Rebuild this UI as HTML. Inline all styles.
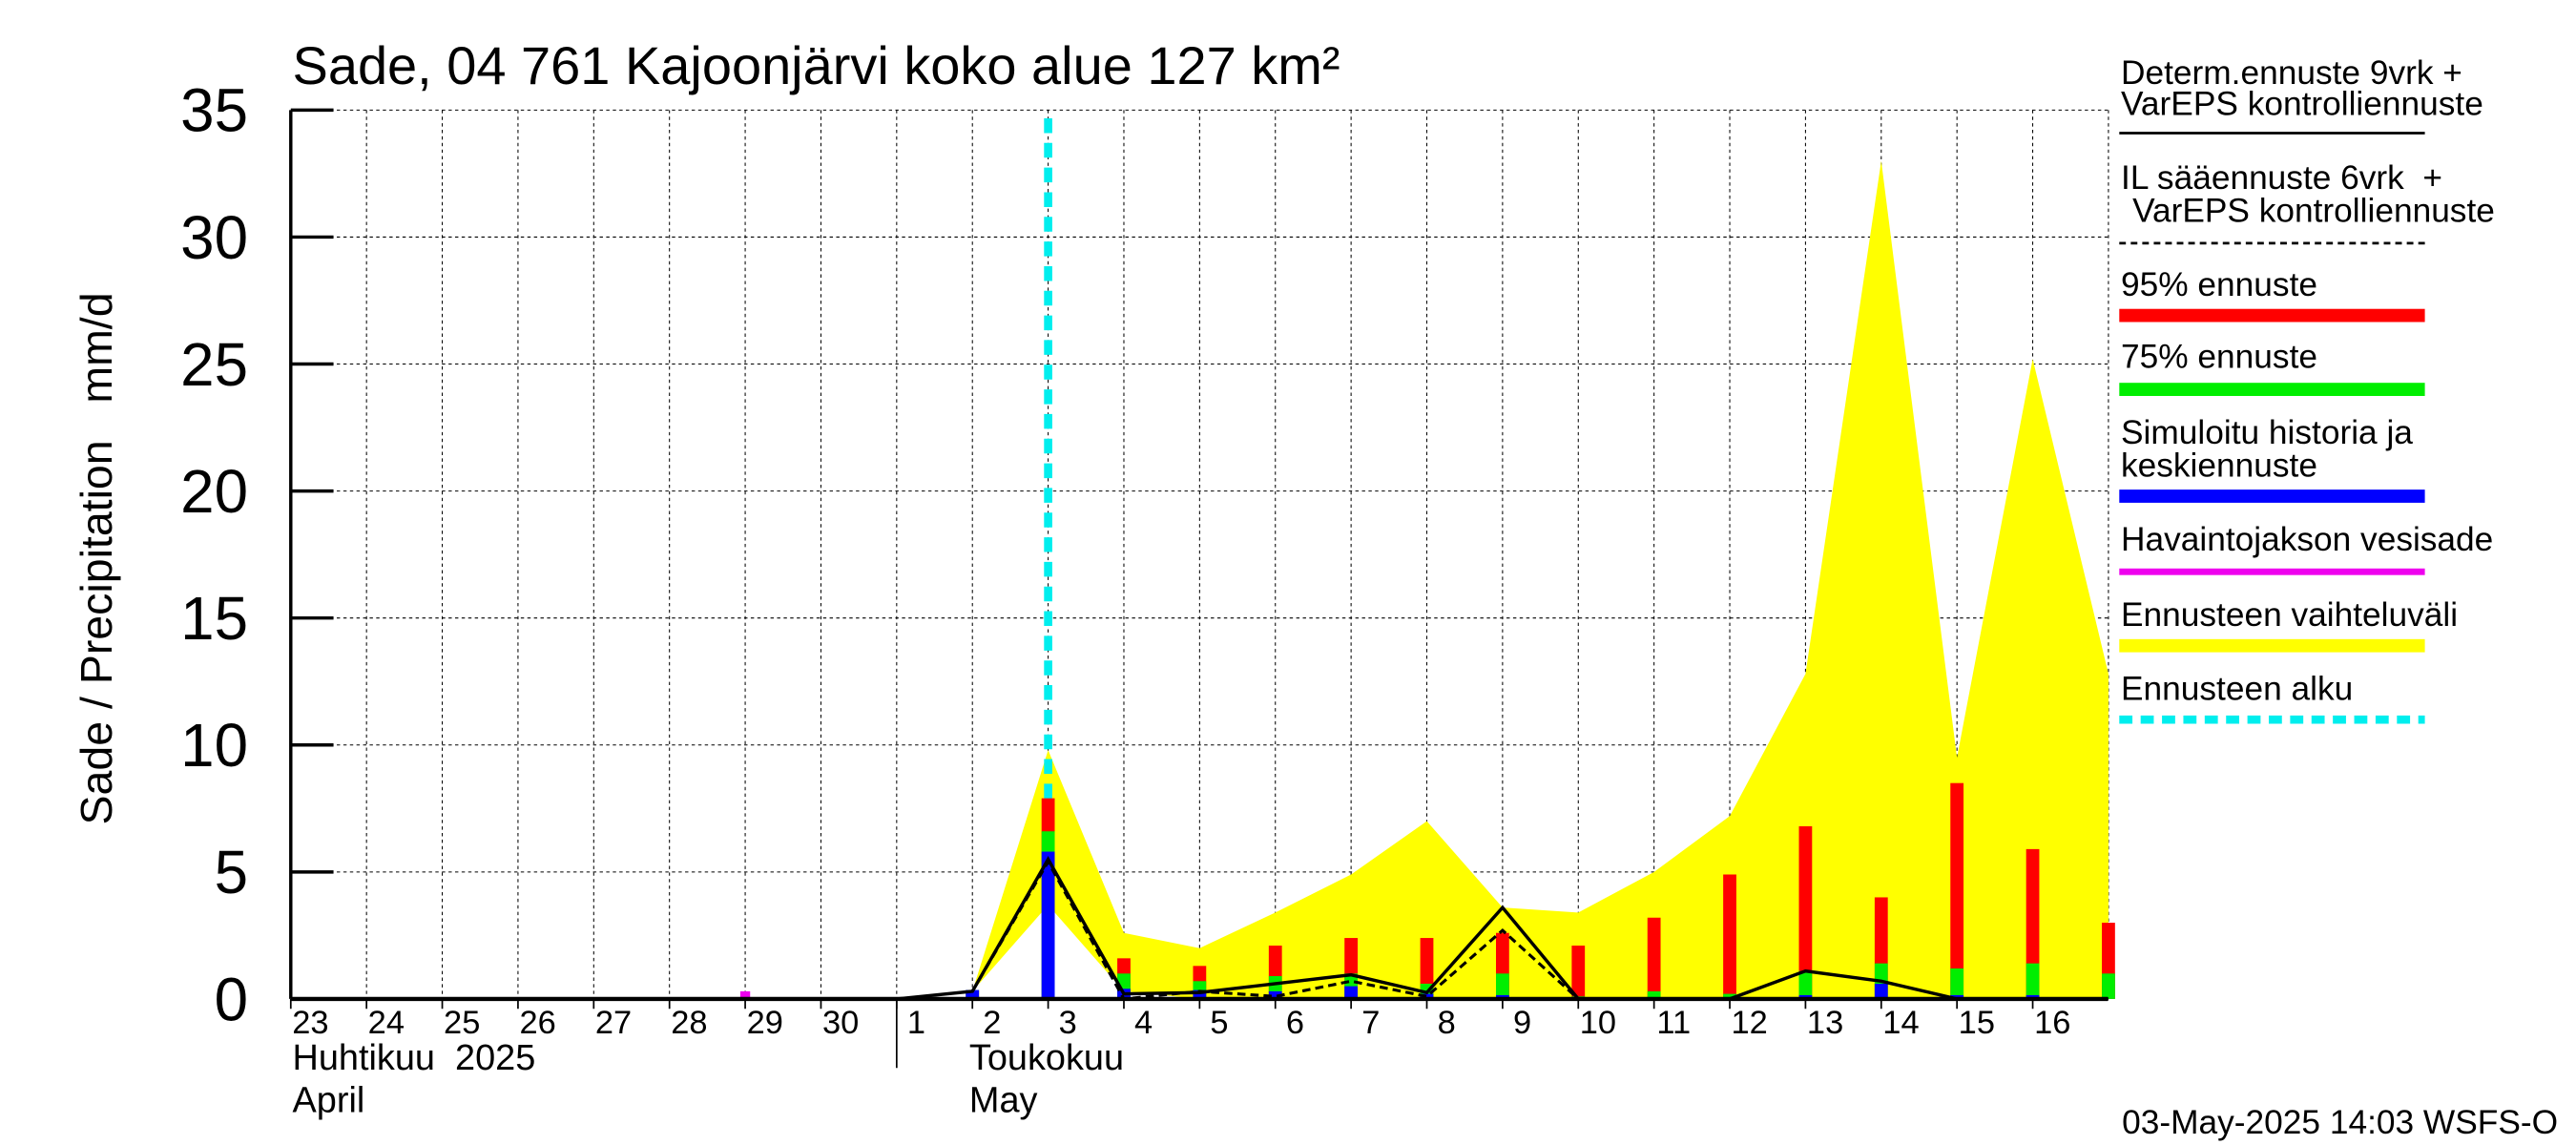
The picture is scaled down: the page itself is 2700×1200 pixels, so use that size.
<!DOCTYPE html>
<html><head><meta charset="utf-8"><style>html,body{margin:0;padding:0;background:#fff}svg{display:block}text{white-space:pre}</style></head>
<body>
<svg id="c" width="2700" height="1200" viewBox="0 0 1568 696.9" preserveAspectRatio="none" xmlns="http://www.w3.org/2000/svg" font-family="'Liberation Sans', sans-serif">
<text x="178" y="51" font-size="32.5">Sade, 04 761 Kajoonjärvi koko alue 127 km²</text>
<text transform="translate(68,340) rotate(-90)" text-anchor="middle" font-size="27">Sade / Precipitation   mm/d</text>
<g id="grid"></g><g id="band"></g><g id="start"></g><g id="bars"></g><g id="lines"></g><g id="axes"></g>
<g id="legend" font-size="20.5">
<text x="1291" y="51">Determ.ennuste 9vrk +</text><text x="1291" y="70">VarEPS kontrolliennuste</text>
<line x1="1290" y1="81" x2="1476" y2="81" stroke="#000" stroke-width="1.6"/>
<text x="1291" y="115">IL sääennuste 6vrk  +</text><text x="1298" y="135">VarEPS kontrolliennuste</text>
<line x1="1290" y1="148" x2="1476" y2="148" stroke="#000" stroke-width="1.6" stroke-dasharray="4,3"/>
<text x="1291" y="180">95% ennuste</text><rect x="1290" y="188" width="186" height="8" fill="#ff0000"/>
<text x="1291" y="224">75% ennuste</text><rect x="1290" y="233" width="186" height="8" fill="#00ee00"/>
<text x="1291" y="270">Simuloitu historia ja</text><text x="1291" y="290">keskiennuste</text><rect x="1290" y="298" width="186" height="8" fill="#0000ff"/>
<text x="1291" y="335">Havaintojakson vesisade</text><rect x="1290" y="346" width="186" height="4" fill="#ee00ee"/>
<text x="1291" y="381">Ennusteen vaihteluväli</text><rect x="1290" y="389" width="186" height="8" fill="#ffff00"/>
<text x="1291" y="426">Ennusteen alku</text><line x1="1290" y1="438" x2="1476" y2="438" stroke="#00eeee" stroke-width="5" stroke-dasharray="8,5"/>
</g>
<text x="1557" y="690" text-anchor="end" font-size="20.5">03-May-2025 14:03 WSFS-O</text>
</svg>
<script>
// day index 0 = Apr 23 ... 8 = May 1 ... 23 = May 16, 24 = May 17
const dayLabels=["23","24","25","26","27","28","29","30","1","2","3","4","5","6","7","8","9","10","11","12","13","14","15","16"];
const yTicks=[0,5,10,15,20,25,30,35];
const bandDays=[9,10,11,12,13,14,15,16,17,18,19,20,21,22,23,24];
const bandUpper=[0.3,9.8,2.6,2.0,3.4,4.9,7.0,3.6,3.4,5.0,7.2,12.8,33,9.5,25.2,12.8];
const bandLower=[0.3,3.7,0.3,0,0,0,0,0,0,0,0,0,0,0,0,0];
const barDays=[9,10,11,12,13,14,15,16,17,18,19,20,21,22,23,24];
const p95=[0.35,7.9,1.6,1.3,2.1,2.4,2.4,2.6,2.1,3.2,4.9,6.8,4.0,8.5,5.9,3.0];
const p75=[0.35,6.6,1.0,0.7,0.9,1.0,0.6,1.0,0.1,0.3,0.2,1.1,1.4,1.2,1.4,1.0];
const mean=[0.35,5.8,0.4,0.35,0.3,0.5,0.2,0.15,0,0,0,0.15,0.6,0.15,0.15,0];
const obsDays=[6];
const obsVals=[0.3];
const detDays=[8,9,10,11,12,13,14,15,16,17,18,19,20,21,22,23,24];
const detVals=[0,0.3,5.5,0.2,0.25,0.6,0.95,0.25,3.6,0,0,0,1.1,0.7,0,0,0];
const ilDays=[9,10,11,12,13,14,15,16,17];
const ilVals=[0.3,5.4,0,0.3,0.1,0.7,0.1,2.7,0];
const forecastStart=10;

const L=177,R=1283,T=67,B=608,DW=46.1;
const X=d=>L+d*DW, Y=v=>B-(v/35)*(B-T);
const NS="http://www.w3.org/2000/svg";
function mk(tag,attrs,parent){const e=document.createElementNS(NS,tag);for(const k in attrs)e.setAttribute(k,attrs[k]);document.getElementById(parent).appendChild(e);return e;}
for(let d=1;d<=24;d++){const g=mk('line',{x1:X(d),x2:X(d),y1:T,y2:B,stroke:'#000','stroke-width':0.6,'stroke-dasharray':'2,2'},'grid');

}
yTicks.forEach(v=>{if(v===0)return;const g=mk('line',{x1:L,x2:1283,y1:Y(v),y2:Y(v),stroke:'#000','stroke-width':0.6,'stroke-dasharray':'2,2'},'grid');

});
let pts=bandDays.map((d,i)=>X(d)+','+Y(bandUpper[i]));
for(let i=bandDays.length-1;i>=0;i--)pts.push(X(bandDays[i])+','+Y(bandLower[i]));
const band=mk('polygon',{points:pts.join(' '),fill:'#ffff00'},'band');


const fs=mk('line',{x1:X(forecastStart),x2:X(forecastStart),y1:72,y2:B,stroke:'#00eeee','stroke-width':5,'stroke-dasharray':'9,6'},'start');


const bw=8;
barDays.forEach((d,i)=>{
 [[p95[i],'#ff0000','bar-95'],[p75[i],'#00ee00','bar-75'],[mean[i],'#0000ff','bar-mean']].forEach(([v,c,n])=>{
  if(v<=0)return;const r=mk('rect',{x:X(d)-bw/2,y:Y(v),width:bw,height:B-Y(v),fill:c},'bars');
  
  });
});
obsDays.forEach((d,i)=>{const r=mk('rect',{x:X(d)-3,y:Y(obsVals[i]),width:6,height:B-Y(obsVals[i]),fill:'#ee00ee'},'bars');

});
const det=mk('polyline',{points:detDays.map((d,i)=>X(d)+','+Y(detVals[i])).join(' '),fill:'none',stroke:'#000','stroke-width':2},'lines');


const il=mk('polyline',{points:ilDays.map((d,i)=>X(d)+','+Y(ilVals[i])).join(' '),fill:'none',stroke:'#000','stroke-width':1.8,'stroke-dasharray':'5,3'},'lines');


const ax=mk('line',{x1:L,x2:L,y1:T,y2:B,stroke:'#000','stroke-width':2},'axes');


const bx=mk('line',{x1:L,x2:1283,y1:B,y2:B,stroke:'#000','stroke-width':2.5},'axes');


yTicks.forEach(v=>{const t=mk('line',{x1:L,x2:L+26,y1:Y(v),y2:Y(v),stroke:'#000','stroke-width':2},'axes');


const l=mk('text',{x:151,y:Y(v)+13,'text-anchor':'end','font-size':37},'axes');l.textContent=v;

});
dayLabels.forEach((s,d)=>{const t=mk('line',{x1:X(d),x2:X(d),y1:B,y2:B+6,stroke:'#000','stroke-width':1},'axes');


const l=mk('text',{x:X(d)+12,y:629,'text-anchor':'middle','font-size':20},'axes');l.textContent=s;

});
const dv=mk('line',{x1:X(8),x2:X(8),y1:B,y2:650,stroke:'#000','stroke-width':1},'axes');


[["Huhtikuu  2025",178,651],["April",178,677],["Toukokuu",590,651],["May",590,677]].forEach(([s,x,y])=>{
 const l=mk('text',{x:x,y:y,'font-size':22},'axes');l.textContent=s;
 
 });
</script>
</body></html>
